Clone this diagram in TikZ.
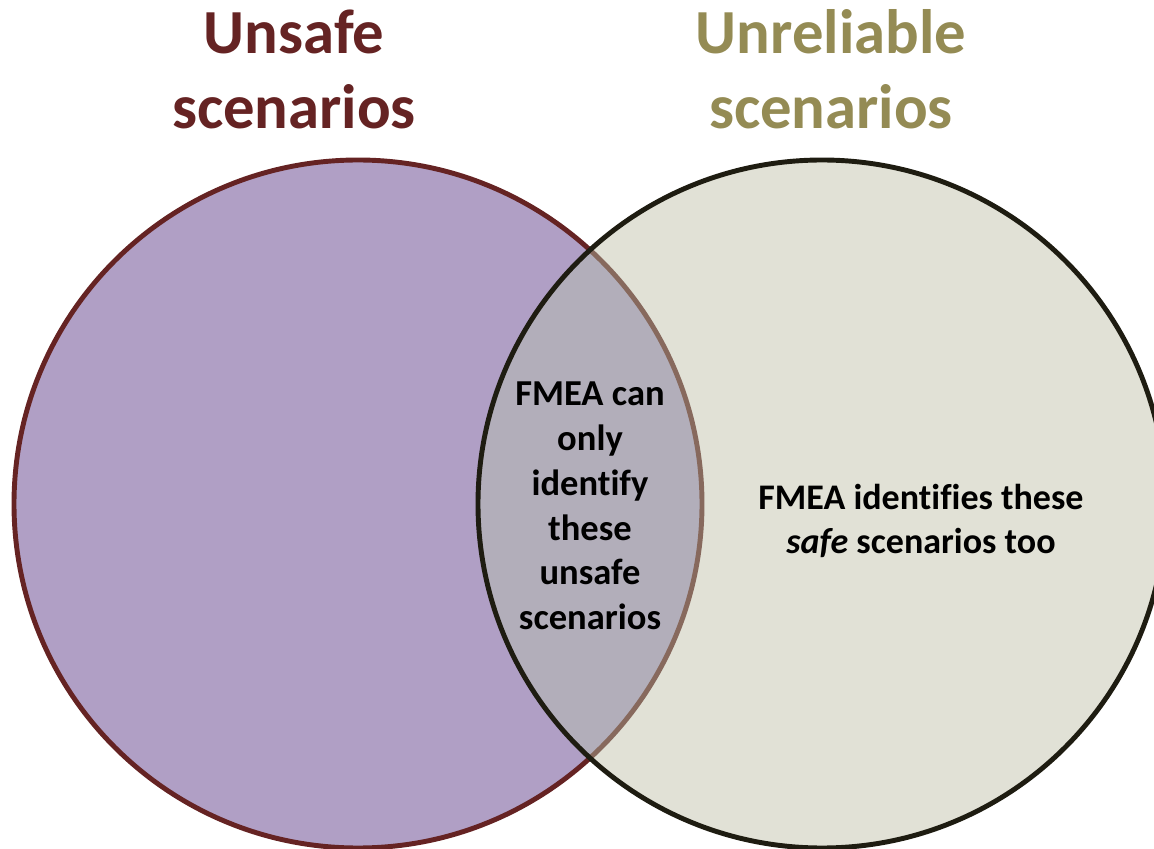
\documentclass[tikz,border=0pt]{standalone}
\usepackage{fontspec}
\setmainfont[Ligatures=NoCommon]{Carlito}
\definecolor{lfill}{HTML}{B09FC5}
\definecolor{lstroke}{HTML}{652323}
\definecolor{rfill}{HTML}{E1E1D6}
\definecolor{rstroke}{HTML}{1E1C11}
\definecolor{ifill}{HTML}{B2AEBA}
\definecolor{istroke}{HTML}{87695D}
\definecolor{tunsafe}{HTML}{652323}
\definecolor{tunrel}{HTML}{948B54}
\tikzset{
  title/.style={font=\fontsize{35.7}{42.5}\selectfont\bfseries, align=center, inner sep=0pt},
  body/.style={font=\fontsize{20.8}{25.5}\selectfont\bfseries, align=center, inner sep=0pt, text=black},
  rbody/.style={font=\fontsize{20.5}{25.5}\selectfont\bfseries, align=center, inner sep=0pt, text=black},
  ring/.style={line width=2.8pt}
}
\begin{document}
\begin{tikzpicture}
\useasboundingbox (0,0) rectangle (23.08,-16.98);
\clip (0,0) rectangle (23.08,-16.98);
\coordinate (lc) at (7.16,-10.08);
\coordinate (rc) at (16.44,-10.08);
% left circle
\fill[lfill] (lc) circle (6.88);
\draw[ring, lstroke] (lc) circle (6.88);
% right circle fill
\fill[rfill] (rc) circle (6.88);
% intersection
\begin{scope}
  \clip (lc) circle (6.88);
  \fill[ifill] (rc) circle (6.88);
\end{scope}
\begin{scope}
  \clip (rc) circle (6.88);
  \draw[ring, istroke] (lc) circle (6.88);
\end{scope}
\draw[ring, rstroke] (rc) circle (6.88);
% texts
\node[title, text=tunsafe] (t1) at (5.88,-1.39) {Unsafe\\scenarios};
\node[title, text=tunrel] (t2) at (16.62,-1.39) {Unreliable\\scenarios};
\node[body] (mid) at (11.8,-10.12) {FMEA can\\only\\identify\\these\\unsafe\\scenarios};
\node[rbody] (right) at (18.42,-10.42) {FMEA identifies these\\\textit{safe} scenarios too};
\end{tikzpicture}
\end{document}
